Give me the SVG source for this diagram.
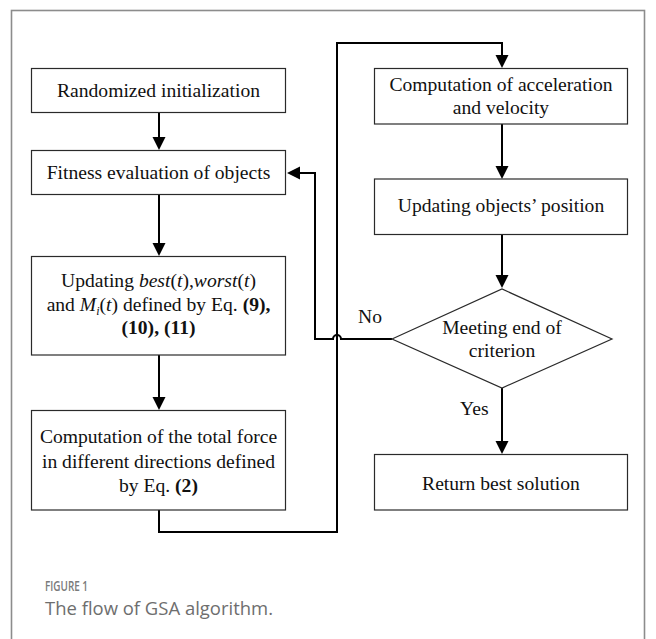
<svg xmlns="http://www.w3.org/2000/svg" width="656" height="639" viewBox="0 0 656 639">
  <style>
    .box { fill: #ffffff; stroke: #2a2a2a; stroke-width: 1.2; }
    .lbl { font-family: "Liberation Serif", "Times New Roman", serif; font-size: 19.6px; fill: #111111; text-anchor: middle; }
    .side { font-family: "Liberation Serif", "Times New Roman", serif; font-size: 19.6px; fill: #111111; }
    .wire { fill: none; stroke: #000000; stroke-width: 2; }
    .cap-head { font-family: "Open Sans", "Noto Sans", sans-serif; font-size: 13.5px; font-weight: 600; fill: #7a7a7a; }
    .cap-body { font-family: "Open Sans", "Noto Sans", sans-serif; font-size: 19px; fill: #6e6e6e; }
  </style>
  <defs>
    <marker id="arrow" markerUnits="userSpaceOnUse" markerWidth="14" markerHeight="14" refX="10" refY="6.5" orient="auto">
      <path d="M0,0 L13,6.5 L0,13 Z" fill="#000000"/>
    </marker>
  </defs>

  <rect width="656" height="639" fill="#ffffff"/>
  <!-- figure frame -->
  <rect x="11.5" y="10.5" width="633" height="640" fill="none" stroke="#8c8c8c" stroke-width="1.6"/>

  <g id="connectors">
    <path class="wire" d="M159,112 V147" marker-end="url(#arrow)"/>
    <path class="wire" d="M159,194 V253" marker-end="url(#arrow)"/>
    <path class="wire" d="M159,355 V407" marker-end="url(#arrow)"/>
    <path class="wire" d="M159,510 V532 H337 V43 H502 V65" marker-end="url(#arrow)"/>
    <path class="wire" d="M502,124 V176" marker-end="url(#arrow)"/>
    <path class="wire" d="M502,234 V285" marker-end="url(#arrow)"/>
    <path class="wire" d="M502,388 V451" marker-end="url(#arrow)"/>
    <path class="wire" d="M392,339 H341 A4,4 0 0 0 333,339 H315 V173 H290" marker-end="url(#arrow)"/>
    <text class="side" x="358" y="323">No</text>
    <text class="side" x="460" y="415">Yes</text>
  </g>

  <g id="init">
    <rect class="box" x="31.5" y="68.5" width="254" height="44"/>
    <text class="lbl" x="158.5" y="97">Randomized initialization</text>
  </g>

  <g id="fitness">
    <rect class="box" x="31.5" y="150.5" width="254" height="44"/>
    <text class="lbl" x="158.5" y="179">Fitness evaluation of objects</text>
  </g>

  <g id="update-best">
    <rect class="box" x="31.5" y="256.5" width="254" height="98.5"/>
    <text class="lbl" x="158.5" y="287">Updating <tspan font-style="italic">best</tspan>(<tspan font-style="italic">t</tspan>),<tspan font-style="italic">worst</tspan>(<tspan font-style="italic">t</tspan>)</text>
    <text class="lbl" x="158.5" y="310.5">and <tspan font-style="italic">M</tspan><tspan font-style="italic" font-size="12px" dy="4">i</tspan><tspan dy="-4">(</tspan><tspan font-style="italic">t</tspan>) defined by Eq. <tspan font-weight="bold">(9),</tspan></text>
    <text class="lbl" x="158.5" y="334" font-weight="bold">(10), (11)</text>
  </g>

  <g id="total-force">
    <rect class="box" x="31.5" y="410.5" width="254" height="99.5"/>
    <text class="lbl" x="158.5" y="443">Computation of the total force</text>
    <text class="lbl" x="158.5" y="467.5">in different directions defined</text>
    <text class="lbl" x="158.5" y="492">by Eq. <tspan font-weight="bold">(2)</tspan></text>
  </g>

  <g id="accel-velocity">
    <rect class="box" x="374.5" y="68.5" width="253" height="55.5"/>
    <text class="lbl" x="501" y="91">Computation of acceleration</text>
    <text class="lbl" x="501" y="114">and velocity</text>
  </g>

  <g id="update-position">
    <rect class="box" x="374.5" y="179" width="253" height="55.5"/>
    <text class="lbl" x="501" y="212">Updating objects’ position</text>
  </g>

  <g id="end-check">
    <polygon class="box" points="392,339 502,289 612,339 502,388"/>
    <text class="lbl" x="502" y="334">Meeting end of</text>
    <text class="lbl" x="502" y="357">criterion</text>
  </g>

  <g id="result">
    <rect class="box" x="374.5" y="454.5" width="253" height="55.5"/>
    <text class="lbl" x="501" y="490">Return best solution</text>
  </g>

  <g id="caption">
    <text class="cap-head" x="45" y="591" textLength="43" lengthAdjust="spacingAndGlyphs">FIGURE 1</text>
    <text class="cap-body" x="45" y="615" textLength="228" lengthAdjust="spacingAndGlyphs">The flow of GSA algorithm.</text>
  </g>
</svg>
